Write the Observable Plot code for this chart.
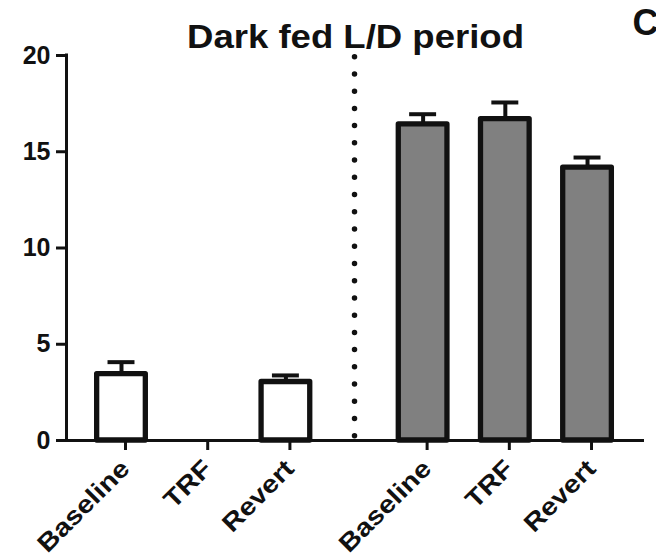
<!DOCTYPE html>
<html><head><meta charset="utf-8">
<script src="https://cdn.jsdelivr.net/npm/d3@7"></script>
<script src="https://cdn.jsdelivr.net/npm/@observablehq/plot@0.6"></script>
<style>body{margin:0;background:#fff;} svg{display:block;}</style>
</head><body><div id="chart"></div>
<script>
const categories = ["Baseline", "TRF", "Revert"];
const groups = ["Light", "Dark"];
const lightMeans = [3.45, 0, 3.04];
const lightSEM = [0.62, 0, 0.34];
const darkMeans = [16.42, 16.70, 14.18];
const darkSEM = [0.53, 0.86, 0.52];
const yTicks = [0, 5, 10, 15, 20];
const title = "Dark fed L/D period";
const panelLabel = "C";

const groupOffset = 3.669;
const rows = [];
groups.forEach((g, gi) => {
  const means = gi === 0 ? lightMeans : darkMeans;
  const sems = gi === 0 ? lightSEM : darkSEM;
  categories.forEach((c, ci) => rows.push({group: g, category: c, pos: gi * groupOffset + ci, mean: means[ci], sem: sems[ci]}));
});
const bars = rows.filter(d => d.mean > 0);
const lightBars = bars.filter(d => d.group === "Light");
const darkBars = bars.filter(d => d.group === "Dark");
const halfBar = 0.296, halfCap = 0.164;
const xMin = -0.669, xMax = 6.362;
const divider = (2 + groupOffset) / 2;
const tickLabel = new Map(rows.map(d => [d.pos, d.category]));
const ink = "#111";
const font = "'Liberation Sans', Arial, sans-serif";

const barOpts = (fill) => ({
  x1: d => d.pos - halfBar, x2: d => d.pos + halfBar, y1: 0, y2: "mean",
  fill, stroke: ink, strokeWidth: 5.3, strokeLinejoin: "round"
});

const chart = Plot.plot({
  width: 656, height: 558,
  marginTop: 55, marginBottom: 118, marginLeft: 66, marginRight: 12,
  style: {fontFamily: font, fontWeight: "bold", color: ink, background: "white", overflow: "visible"},
  x: {type: "linear", domain: [xMin, xMax], label: null},
  y: {domain: [0, 20], label: null},
  marks: [
    Plot.ruleX([divider], {y1: 20, y2: 0, stroke: ink, strokeWidth: 5.5, strokeLinecap: "round", strokeDasharray: "0 17.23", strokeDashoffset: -1.7}),
    Plot.ruleX(bars, {x: "pos", y1: "mean", y2: d => d.mean + d.sem, stroke: ink, strokeWidth: 4}),
    Plot.ruleY(bars, {y: d => d.mean + d.sem, x1: d => d.pos - halfCap, x2: d => d.pos + halfCap, stroke: ink, strokeWidth: 4}),
    Plot.rectY(lightBars, barOpts("white")),
    Plot.rectY(darkBars, barOpts("#808080")),
    Plot.ruleX([xMin], {y1: 0, y2: 20, stroke: ink, strokeWidth: 3, strokeLinecap: "square"}),
    Plot.ruleY([0], {x1: xMin, x2: xMax, stroke: ink, strokeWidth: 3}),
    Plot.axisY(yTicks, {tickSize: 10, strokeWidth: 3, tickPadding: 6, fontSize: 25, fontWeight: "bold", fill: ink, stroke: ink, label: null}),
    Plot.axisX(rows.map(d => d.pos), {tickSize: 10, strokeWidth: 3, tickRotate: -45, tickPadding: 14, dx: 4, tickFormat: d => tickLabel.get(d), fontSize: 25, fontWeight: "bold", fill: ink, stroke: ink, label: null}),
    Plot.text([title], {frameAnchor: "top", dy: -8, lineAnchor: "bottom", fontSize: 33, fontWeight: "bold", fill: ink}),
    Plot.text([panelLabel], {frameAnchor: "top-right", dx: -12, dy: -21, textAnchor: "start", lineAnchor: "bottom", fontSize: 36, fontWeight: "bold", fill: ink})
  ]
});
document.getElementById("chart").append(chart);
const xLabels = new Set(categories);
chart.querySelectorAll("text").forEach(t => {
  const s = t.textContent;
  let factor = null;
  if (s === title) factor = 337 / t.getComputedTextLength();
  else if (xLabels.has(s)) factor = 1.15;
  if (factor) {
    t.setAttribute("textLength", (t.getComputedTextLength() * factor).toFixed(1));
    t.setAttribute("lengthAdjust", "spacingAndGlyphs");
  }
});
</script>
</body></html>
